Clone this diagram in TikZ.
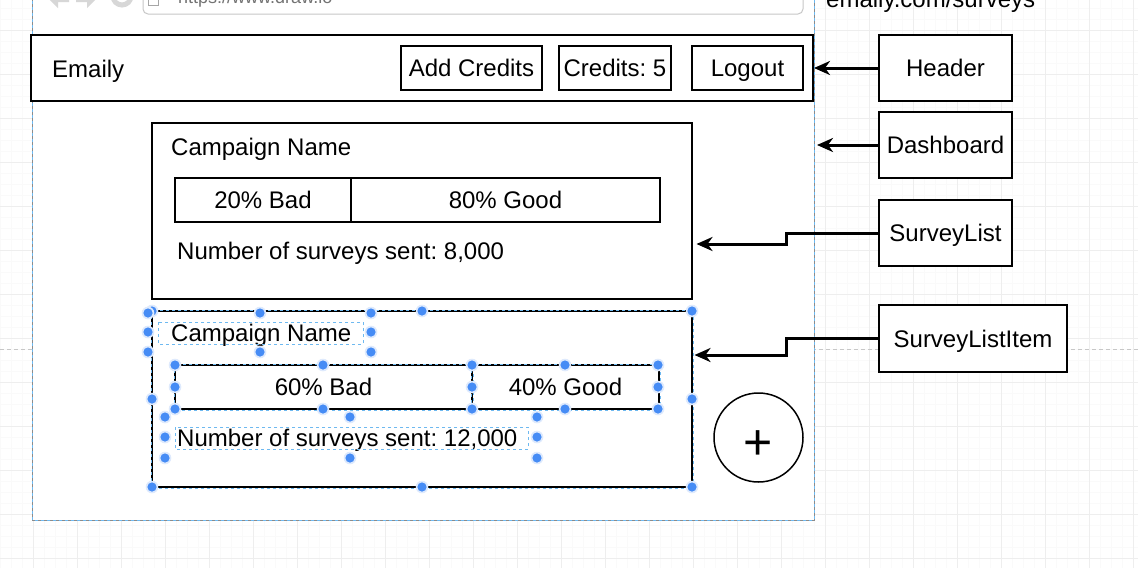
\documentclass[tikz,border=0pt]{standalone}
\usepackage{fontspec}
\setmainfont{Liberation Sans}
\usetikzlibrary{arrows.meta,calc}
\definecolor{hblue}{RGB}{70,140,245}
\definecolor{selblue}{RGB}{110,185,240}
\definecolor{gridmin}{RGB}{250,250,250}
\definecolor{gridmaj}{RGB}{238,238,238}
\definecolor{navgray}{RGB}{215,215,215}
\newcommand\fsz{\fontsize{24}{28}\selectfont}
\tikzset{
  box/.style={draw, line width=2pt, inner sep=0pt, fill=white, font=\fsz, text height=17.2pt, text depth=0pt},
  txt/.style={inner sep=0pt, font=\fsz, text height=17.2pt, text depth=0pt},
  sel/.style={draw=selblue, line width=0.9pt, dash pattern=on 3pt off 3pt},
  arr/.style={line width=3pt, -{Stealth[length=16pt,width=14pt,inset=5pt]}},
}
\begin{document}
\frenchspacing
\begin{tikzpicture}[x=1pt,y=-1pt]
\useasboundingbox (0,0) rectangle (1138,568);
\clip (0,0) rectangle (1138,568);
\fill[white] (0,0) rectangle (1138,568);
% grid
\foreach \gx in {0,11,...,1137} \draw[gridmin, line width=0.7pt] (\gx,0) -- (\gx,568);
\foreach \gy in {8,19,...,567} \draw[gridmin, line width=0.7pt] (0,\gy) -- (1138,\gy);
\foreach \gx in {33,77,...,1137} \draw[gridmaj, line width=0.9pt] (\gx,0) -- (\gx,568);
\foreach \gy in {30,74,...,567} \draw[gridmaj, line width=0.9pt] (0,\gy) -- (1138,\gy);
% page break
\draw[black!22, line width=0.9pt, dash pattern=on 4pt off 3pt] (0,349) -- (1138,349);
% browser frame
\fill[white] (32,-5) rectangle (814,520);
\draw[black!45, line width=0.8pt] (32,-5) -- (32,520) -- (814,520) -- (814,-5);
\draw[sel] (32,-5) -- (32,520) -- (814,520) -- (814,-5);
% address bar
\draw[black!22, line width=1pt, rounded corners=5pt] (143,-40) rectangle (803,14);
\draw[black!35, line width=1pt] (148,-10) rectangle (158,5);
\node[anchor=base west, inner sep=0pt, font=\fontsize{18}{20}\selectfont, text=black!55] (url) at (178,3) {https://www.draw.io};
% nav icons
\fill[navgray] (47,-3) -- (58,-14) -- (58,-8) -- (69,-8) -- (69,2) -- (58,2) -- (58,8) -- cycle;
\fill[navgray] (98,-3) -- (87,-14) -- (87,-8) -- (76,-8) -- (76,2) -- (87,2) -- (87,8) -- cycle;
\draw[navgray, line width=5pt] (122,-4) circle (9);
% route text
\node[anchor=base west, inner sep=0pt, font=\fsz] (route) at (826,7.3) {emaily.com/surveys};
% header
\node[box, minimum width=782, minimum height=66] (header) at (422,68) {};
\node[txt, anchor=west] (logo) at (52,69) {Emaily};
\node[box, minimum width=141, minimum height=44] (addc) at (471.5,68) {Add Credits};
\node[box, minimum width=112, minimum height=44] (cred) at (615,68) {Credits: 5};
\node[box, minimum width=111, minimum height=44] (logout) at (747.5,68) {Logout};
% card 1
\node[box, minimum width=540, minimum height=176] (card1) at (422,211) {};
\node[txt, anchor=west] (name1) at (171,146.5) {Campaign Name};
\node[box, minimum width=176, minimum height=44] (bad1) at (263,200) {20\% Bad};
\node[box, minimum width=309, minimum height=44] (good1) at (505.5,200) {80\% Good};
\node[txt, anchor=west] (num1) at (177,251) {Number of surveys sent: 8,000};
% card 2
\node[box, minimum width=540, minimum height=176] (card2) at (422,399) {};
\node[txt, anchor=west] (name2) at (171,333) {Campaign Name};
\node[box, minimum width=297, minimum height=44] (bad2) at (323.5,387) {60\% Bad};
\node[box, minimum width=187, minimum height=44] (good2) at (565.5,387) {40\% Good};
\node[txt, anchor=west] (num2) at (177,438) {Number of surveys sent: 12,000};
\draw[sel] (card2.north west) rectangle (card2.south east);
\draw[sel] (bad2.north west) rectangle (bad2.south east);
\draw[sel] (good2.north west) rectangle (good2.south east);
\draw[sel] (158,322) rectangle (363,344);
\draw[sel] (175,427) rectangle (528,449);
% handles
\foreach \hx/\hy in {152/311,422/311,692/311,152/399,692/399,152/487,422/487,692/487,
  148/313,260/313,371/313,148/332,371/332,148/352,260/352,371/352,
  175/365,323/365,472/365,175/387,472/387,175/409,323/409,472/409,
  565/365,658/365,658/387,565/409,658/409,
  165/417,350/417,537/417,165/437,537/437,165/458,350/458,537/458}
  {\fill[hblue!18] (\hx,\hy) circle (6.3); \fill[hblue] (\hx,\hy) circle (4.6);}
% plus button
\node[draw, circle, line width=1.5pt, minimum size=89, inner sep=0pt] (addbtn) at (758.5,437.5) {};
\node[anchor=base, inner sep=0pt, font=\fontsize{50}{60}\selectfont] (plus) at (758.5,459.6) {+};
% labels
\node[box, minimum width=133, minimum height=66] (lhead) at (945.5,68) {Header};
\node[box, minimum width=133, minimum height=66] (ldash) at (945.5,145) {Dashboard};
\node[box, minimum width=133, minimum height=66] (llist) at (945.5,233) {SurveyList};
\node[box, minimum width=188, minimum height=67] (litem) at (973,338.5) {SurveyListItem};
\coordinate (dashend) at (817,145);
% arrows
\draw[arr] (lhead.west) -- (header.east);
\draw[arr] (ldash.west) -- (dashend);
\draw[arr, shorten >=3.5pt] (llist.west) -- ++(-92,0) |- ($(card1.east)+(0,33)$);
\draw[arr, shorten >=1.5pt] (litem.west) -- ++(-92,0) |- ($(card2.east)+(0,-44)$);
\end{tikzpicture}
\end{document}
